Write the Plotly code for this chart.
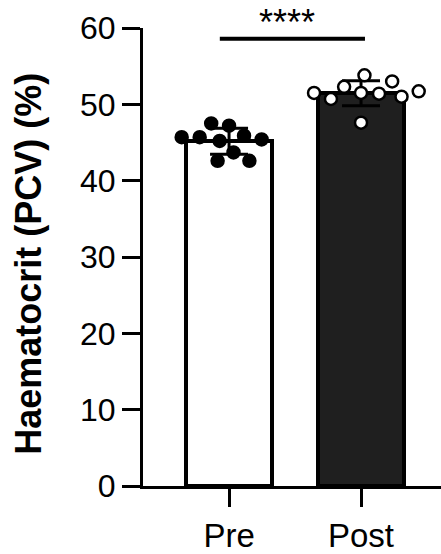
import numpy as np
import plotly.graph_objects as go

# Haematocrit (PCV, %) before and after, one value per subject
groups = ["Pre", "Post"]
pre_values = [47.2, 47.5, 45.9, 45.2, 45.7, 45.4, 45.7, 43.7, 42.6, 42.6]
post_values = [51.5, 52.3, 51.4, 53.0, 50.7, 51.0, 53.8, 51.5, 51.7, 47.6]
y_ticks = [0, 10, 20, 30, 40, 50, 60]
sig_label = "****"
y_title = "Haematocrit (PCV) (%)"

series = [pre_values, post_values]
means = [float(np.mean(v)) for v in series]
sds = [float(np.std(v, ddof=1)) for v in series]

# figure geometry
W, H = 441, 554
M = dict(l=143, r=0, t=28, b=65)
X_RANGE = [-0.652, 1.606]
Y_RANGE = [0, 60]
PLOT_W = W - M["l"] - M["r"]
PLOT_H = H - M["t"] - M["b"]
px_per_x = PLOT_W / (X_RANGE[1] - X_RANGE[0])
px_per_y = PLOT_H / (Y_RANGE[1] - Y_RANGE[0])
DOT = 13       # marker diameter in px
SPACING = 18   # minimum centre-to-centre distance between dots in px


def swarm_offsets(values, spacing):
    """Greedy beeswarm: horizontal offsets (in x units) so dots keep apart."""
    placed = []
    out = []
    for v in values:
        y = v * px_per_y
        cands = [0.0]
        for px_, py_ in placed:
            dy = y - py_
            if abs(dy) < spacing:
                dx = np.sqrt(spacing ** 2 - dy ** 2)
                cands += [px_ + dx, px_ - dx]
        cands.sort(key=lambda c: (abs(c), c))
        for c in cands:
            if all((c - px_) ** 2 + (y - py_) ** 2 >= spacing ** 2 - 1e-6
                   for px_, py_ in placed):
                placed.append((c, y))
                out.append(c / px_per_x)
                break
    return out


fig = go.Figure()

fig.add_trace(go.Bar(
    x=[0, 1], y=means, width=0.65,
    marker=dict(color=["white", "#1f1f1f"], line=dict(color="black", width=4)),
    error_y=dict(type="data", array=sds, color="black", thickness=3, width=19),
    showlegend=False, hoverinfo="skip",
))

for i, vals in enumerate(series):
    offs = swarm_offsets(vals, SPACING)
    fill = "black" if i == 0 else "white"
    fig.add_trace(go.Scatter(
        x=[i + o for o in offs], y=vals, mode="markers",
        marker=dict(size=DOT - 1, color=fill, line=dict(color="black", width=2.5)),
        showlegend=False, cliponaxis=False,
    ))

# significance bracket
fig.add_shape(type="line", xref="x", yref="y", x0=-0.07, x1=1.03, y0=58.6, y1=58.6,
              line=dict(color="black", width=4))
fig.add_annotation(x=0.44, y=(PLOT_H + M["t"] - 1) / PLOT_H, xref="x", yref="paper",
                   text=sig_label, showarrow=False, borderpad=0,
                   font=dict(size=36, color="black"), xanchor="center", yanchor="top")

# y-axis title
fig.add_annotation(x=(29 - M["l"]) / PLOT_W, y=0.485, xref="paper", yref="paper",
                   text="<b>" + y_title + "</b>", textangle=-90, showarrow=False,
                   font=dict(size=36, color="black"), xanchor="center", yanchor="middle")

fig.update_layout(
    width=W, height=H, margin=M,
    paper_bgcolor="white", plot_bgcolor="white",
    font=dict(family="Arial, Liberation Sans, sans-serif", color="black"),
    bargap=0,
)
fig.update_xaxes(
    range=X_RANGE, tickvals=[0, 1], ticktext=groups,
    showline=True, linecolor="black", linewidth=3,
    ticks="outside", ticklen=18, tickwidth=3, tickcolor="black",
    tickfont=dict(size=33), showgrid=False, zeroline=False,
)
fig.update_yaxes(
    range=Y_RANGE, tickvals=y_ticks,
    showline=True, linecolor="black", linewidth=3,
    ticks="outside", ticklen=18, tickwidth=3, tickcolor="black",
    tickfont=dict(size=32), showgrid=False, zeroline=False,
)

fig.write_html("out.html")
